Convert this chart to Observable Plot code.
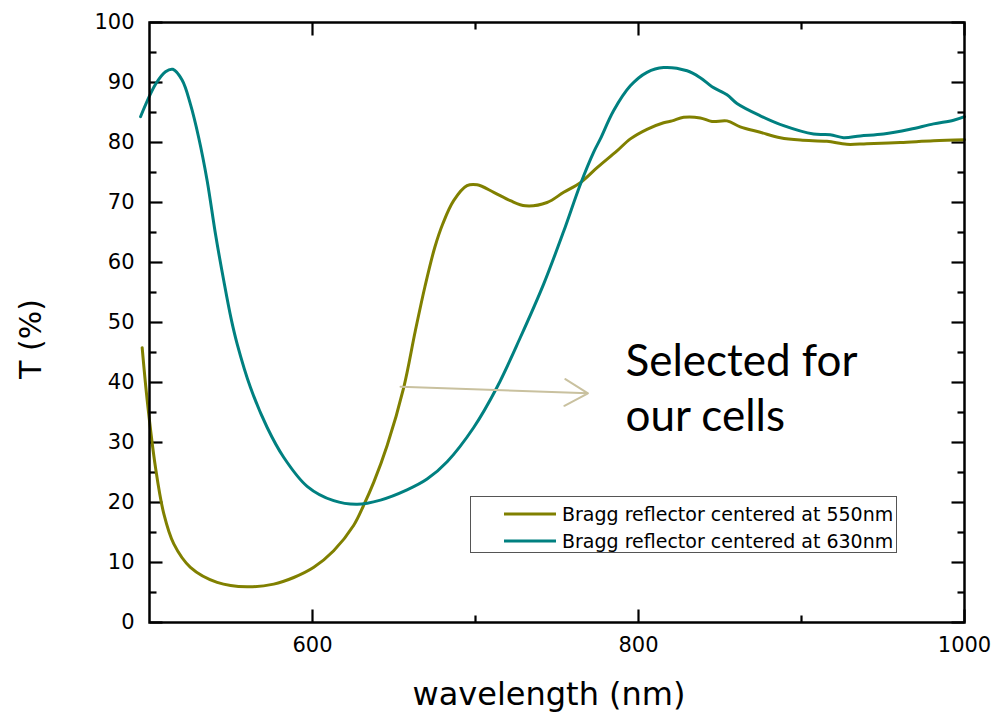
<!DOCTYPE html>
<html><head><meta charset="utf-8">
<script src="https://cdn.jsdelivr.net/npm/d3@7"></script>
<script src="https://cdn.jsdelivr.net/npm/@observablehq/plot@0.6"></script>
<style>
body{margin:0;background:#fff;}
</style></head><body><div id="wrap"></div>
<script>
// Series
const seriesNames = ["Bragg reflector centered at 550nm", "Bragg reflector centered at 630nm"];
const seriesColors = ["#808000", "#008080"];

const wl550 = [495.5, 498.6, 503.7, 508.8, 514.9, 525.1, 541.5, 559.9, 576.2, 588.5, 600.8, 613, 625.3, 631.5, 637.6, 645.8, 656, 663, 669, 675, 680, 686.6, 694.8, 701, 711.2, 721.4, 730.6, 743.9, 754.1, 764.3, 774.6, 786.8, 795, 805.2, 815.4, 820.6, 827.7, 837.9, 845.1, 854.3, 862.4, 874.7, 887, 899.3, 915.6, 927.8, 940.1, 960.6, 981, 1000];
const t550 = [45.8, 37, 25.8, 18.1, 13.1, 9.2, 6.7, 5.95, 6.4, 7.5, 9.2, 11.95, 16.2, 19.6, 23.4, 29.5, 39.2, 48.5, 56, 62.5, 66.5, 70.3, 72.8, 72.95, 71.7, 70.3, 69.45, 70, 71.7, 73.3, 75.8, 78.6, 80.6, 82.2, 83.3, 83.6, 84.2, 84.1, 83.5, 83.6, 82.6, 81.7, 80.8, 80.4, 80.2, 79.7, 79.8, 80, 80.3, 80.45];

const wl630 = [494.5, 503.7, 509.8, 514.3, 520, 525.1, 530.2, 535.4, 540.5, 545.6, 550.1, 553.8, 561.9, 572.2, 582.4, 596.7, 613, 627.4, 641.7, 658, 670.3, 682.6, 698.9, 713.2, 727.5, 741.8, 754.1, 764.3, 772.5, 776.6, 784.7, 795, 805.2, 815.4, 829.8, 837.9, 845.1, 854.3, 860.4, 874.7, 889, 907.4, 917.6, 925.8, 936, 950.3, 966.7, 981, 993.3, 1000];
const t630 = [84.3, 89.7, 91.8, 92.2, 90.4, 86.4, 80.8, 73.6, 64.7, 56.9, 50.6, 46.4, 39.2, 32.5, 27.5, 22.7, 20.3, 19.7, 20.4, 22.1, 23.9, 26.8, 32.5, 39.2, 47.5, 56.4, 65.2, 73.0, 78.4, 80.6, 85.3, 89.45, 91.7, 92.5, 91.95, 90.8, 89.3, 87.95, 86.5, 84.45, 82.8, 81.4, 81.3, 80.8, 81.1, 81.4, 82.2, 83.1, 83.7, 84.3];

// Axes
const xDomain = [500, 1000];
const yDomain = [0, 100];
const xTickLabels = [600, 800, 1000];
const xMinorTicks = [700, 900];
const yTickLabels = d3.range(0, 101, 10);
const yMinorTicks = d3.range(5, 100, 10);
const xTitle = "wavelength (nm)";
const yTitle = "T (%)";

// Annotation
const annText = ["Selected for", "our cells"];
const annX = [792, 792];
const annY = [43.5, 34.2];
const arrowFrom = [654, 39.3];
const arrowTo = [769, 38.2];

const W = 1006, H = 712, mL = 149, mR = 42, mT = 22, mB = 90;
const fw = W - mL - mR, fh = H - mT - mB;
const xUnitsPerPx = (xDomain[1] - xDomain[0]) / fw;
const yUnitsPerPx = (yDomain[1] - yDomain[0]) / fh;
const majorLen = 13, minorLen = 7;

const d550 = wl550.map((x, i) => ({x, y: t550[i]}));
const d630 = wl630.map((x, i) => ({x, y: t630[i]}));
const ann = annText.map((t, i) => ({t, x: annX[i], y: annY[i]}));
const arrowData = [{x1: arrowFrom[0], y1: arrowFrom[1], x2: arrowTo[0], y2: arrowTo[1]}];

// inward tick segments: positions from tick values, lengths converted from pixels to data units
const seg = [];
const addX = (ticks, len) => ticks.forEach(v => {
  seg.push({x1: v, x2: v, y1: yDomain[0], y2: yDomain[0] + len * yUnitsPerPx});
  seg.push({x1: v, x2: v, y1: yDomain[1] - len * yUnitsPerPx, y2: yDomain[1]});
});
const addY = (ticks, len) => ticks.forEach(v => {
  seg.push({y1: v, y2: v, x1: xDomain[0], x2: xDomain[0] + len * xUnitsPerPx});
  seg.push({y1: v, y2: v, x1: xDomain[1] - len * xUnitsPerPx, x2: xDomain[1]});
});
addX(xTickLabels, majorLen); addX(xMinorTicks, minorLen);
addY(yTickLabels, majorLen); addY(yMinorTicks, minorLen);

const chart = Plot.plot({
  width: W, height: H,
  marginLeft: mL, marginRight: mR, marginTop: mT, marginBottom: mB,
  style: {fontFamily: "DejaVu Sans, sans-serif", background: "#fff"},
  x: {domain: xDomain},
  y: {domain: yDomain},
  marks: [
    Plot.axisX({ticks: xTickLabels, tickSize: 0, tickPadding: 15, fontSize: 21, label: null, tickFormat: d => String(d)}),
    Plot.axisY({ticks: yTickLabels, tickSize: 0, tickPadding: 15, fontSize: 21, label: null, tickFormat: d => String(d)}),
    Plot.link(seg, {x1: "x1", y1: "y1", x2: "x2", y2: "y2", stroke: "black", strokeWidth: 2.2}),
    Plot.line(d550, {x: "x", y: "y", stroke: seriesColors[0], strokeWidth: 3, curve: "catmull-rom"}),
    Plot.line(d630, {x: "x", y: "y", stroke: seriesColors[1], strokeWidth: 3, curve: "catmull-rom"}),
    Plot.arrow(arrowData, {x1: "x1", y1: "y1", x2: "x2", y2: "y2", stroke: "#c9c19f", strokeWidth: 2, headLength: 20, headAngle: 60}),
    Plot.text(ann, {x: "x", y: "y", text: "t", textAnchor: "start", fontSize: 44, fontFamily: "Lato, sans-serif", fill: "black"}),
    Plot.text([xTitle], {frameAnchor: "bottom", text: d => d, dx: -8, dy: 82, fontSize: 32}),
    Plot.frame({stroke: "black", strokeWidth: 2.5})
  ]
});
document.getElementById("wrap").appendChild(chart);

const svg = d3.select(chart);
// y-axis title
svg.append("text")
  .attr("transform", "translate(30,339) rotate(-90)")
  .attr("text-anchor", "middle").attr("dy", "0.35em")
  .attr("font-family", "DejaVu Sans, sans-serif").attr("font-size", 30).attr("fill", "black")
  .text(yTitle);

// legend box inside the plot
const lg = svg.append("g").attr("transform", "translate(470,496)");
lg.append("rect").attr("x", 0.5).attr("y", 0.5).attr("width", 426).attr("height", 56)
  .attr("fill", "white").attr("stroke", "#555").attr("stroke-width", 1);
seriesNames.forEach((name, i) => {
  const cy = 18 + 27 * i;
  lg.append("line").attr("x1", 34).attr("x2", 86).attr("y1", cy).attr("y2", cy)
    .attr("stroke", seriesColors[i]).attr("stroke-width", 3);
  lg.append("text").attr("x", 92).attr("y", cy).attr("dy", "0.35em")
    .attr("font-family", "DejaVu Sans, sans-serif").attr("font-size", 19).attr("fill", "black")
    .attr("text-anchor", "start").text(name);
});
</script>
</body></html>
